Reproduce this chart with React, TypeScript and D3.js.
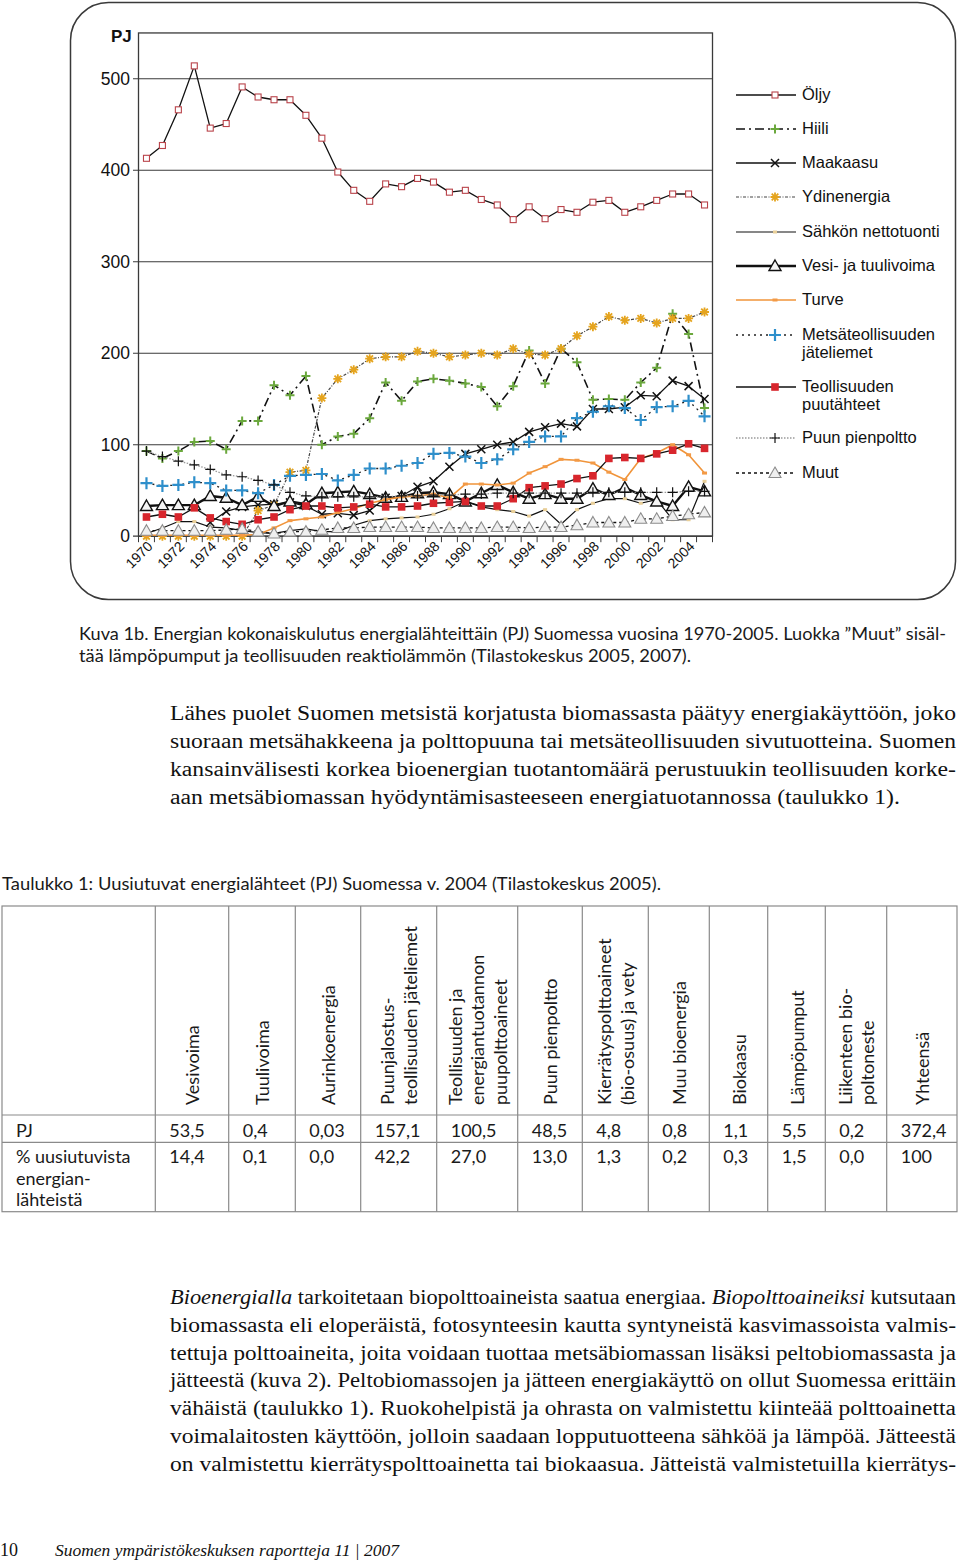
import React from "react";
import * as d3 from "d3";

// ---------- DATA ----------
const years = [
  1970, 1971, 1972, 1973, 1974, 1975, 1976, 1977, 1978, 1979, 1980, 1981,
  1982, 1983, 1984, 1985, 1986, 1987, 1988, 1989, 1990, 1991, 1992, 1993,
  1994, 1995, 1996, 1997, 1998, 1999, 2000, 2001, 2002, 2003, 2004, 2005,
];
const yTicks = [0, 100, 200, 300, 400, 500];
const xTickLabels = [
  1970, 1972, 1974, 1976, 1978, 1980, 1982, 1984, 1986, 1988, 1990, 1992,
  1994, 1996, 1998, 2000, 2002, 2004,
];

const oljy = [413, 427, 466, 514, 446, 451, 491, 480, 477, 477, 460, 435, 398, 378, 366, 385, 382, 391, 387, 376, 378, 368, 362, 346, 360, 347, 357, 354, 365, 367, 354, 360, 367, 374, 374, 362];
const hiili = [93, 85, 93, 103, 104, 95, 126, 126, 165, 154, 175, 100, 109, 112, 129, 168, 148, 169, 172, 170, 167, 163, 142, 164, 203, 167, 205, 190, 149, 150, 149, 168, 184, 243, 221, 140];
const maakaasu: (number | null)[] = [null, null, null, null, 15, 27, 32, 34, 35, 37, 33, 24, 25, 23, 28, 42, 44, 54, 60, 76, 90, 95, 100, 103, 114, 119, 123, 120, 139, 139, 141, 154, 153, 170, 164, 150];
const ydinenergia = [0, 0, 0, 0, 0, 0, 0, 28, 34, 70, 72, 151, 172, 182, 194, 196, 196, 202, 200, 196, 198, 200, 198, 205, 199, 198, 205, 219, 229, 240, 236, 238, 233, 238, 238, 245];
const sahko = [3, 9, 16, 16, 10, 9, 6, 4, 3, 6, 8, 5, 5, 12, 17, 19, 20, 21, 24, 30, 38, 32, 29, 27, 22, 29, 13, 29, 36, 41, 41, 36, 40, 18, 18, 60];
const vesi = [33, 34, 34, 34, 44, 42, 34, 43, 33, 38, 35, 47, 48, 49, 46, 42, 43, 47, 48, 46, 38, 47, 56, 48, 41, 46, 41, 41, 52, 45, 53, 45, 38, 33, 54, 49];
const turve = [1, 1, 1, 1, 1, 1, 1, 2, 9, 17, 19, 21, 26, 30, 36, 40, 43, 44, 46, 42, 57, 57, 56, 58, 69, 76, 84, 83, 80, 70, 62, 85, 91, 100, 89, 69];
const jateliemet = [58, 55, 56, 59, 58, 50, 50, 47, 56, 66, 67, 68, 61, 67, 74, 74, 77, 80, 90, 91, 87, 80, 84, 95, 103, 109, 109, 129, 136, 142, 140, 127, 141, 142, 148, 131];
const puutahteet = [21, 24, 21, 31, 20, 16, 13, 18, 21, 29, 33, 33, 31, 32, 35, 32, 32, 33, 36, 37, 38, 33, 33, 41, 53, 55, 57, 63, 66, 85, 86, 85, 90, 94, 101, 96];
const pienpoltto = [93, 87, 82, 78, 73, 67, 65, 61, 56, 48, 44, 43, 43, 43, 43, 43, 44, 44, 45, 45, 46, 46, 47, 47, 47, 47, 47, 47, 48, 48, 48, 48, 48, 48, 49, 49];
const muut = [6, 6, 6, 6, 6, 7, 8, 5, 3, 5, 5, 7, 9, 9, 10, 10, 10, 10, 9, 9, 9, 9, 10, 10, 9, 10, 10, 12, 15, 15, 15, 19, 19, 22, 24, 26];

const legendLabels: string[][] = [
  ["Öljy"], ["Hiili"], ["Maakaasu"], ["Ydinenergia"], ["Sähkön nettotuonti"],
  ["Vesi- ja tuulivoima"], ["Turve"], ["Metsäteollisuuden", "jäteliemet"],
  ["Teollisuuden", "puutähteet"], ["Puun pienpoltto"], ["Muut"],
];

// table
const tableHeaders: string[][] = [
  ["Vesivoima"], ["Tuulivoima"], ["Aurinkoenergia"],
  ["Puunjalostus-", "teollisuuden jäteliemet"],
  ["Teollisuuden ja", "energiantuotannon", "puupolttoaineet"],
  ["Puun pienpoltto"], ["Kierrätyspolttoaineet", "(bio-osuus) ja vety"],
  ["Muu bioenergia"], ["Biokaasu"], ["Lämpöpumput"], ["Liikenteen bio-", "poltoneste"], ["Yhteensä"],
];
const tablePJ = ["53,5", "0,4", "0,03", "157,1", "100,5", "48,5", "4,8", "0,8", "1,1", "5,5", "0,2", "372,4"];
const tablePct = ["14,4", "0,1", "0,0", "42,2", "27,0", "13,0", "1,3", "0,2", "0,3", "1,5", "0,0", "100"];
const rowLabelPJ = "PJ";
const rowLabelPct = ["% uusiutuvista", "energian-", "lähteistä"];

// text
const captionLines = [
  "Kuva 1b. Energian kokonaiskulutus energialähteittäin (PJ) Suomessa vuosina 1970-2005. Luokka \u201dMuut\u201d sisäl-",
  "tää lämpöpumput ja teollisuuden reaktiolämmön (Tilastokeskus 2005, 2007).",
];
const para1 = [
  "Lähes puolet Suomen metsistä korjatusta biomassasta päätyy energiakäyttöön, joko",
  "suoraan metsähakkeena ja polttopuuna tai metsäteollisuuden sivutuotteina. Suomen",
  "kansainvälisesti korkea bioenergian tuotantomäärä perustuukin teollisuuden korke-",
  "aan metsäbiomassan hyödyntämisasteeseen energiatuotannossa (taulukko 1).",
];
const para1Widths = [786, 786, 786, 730];
const tableTitle = "Taulukko 1: Uusiutuvat energialähteet (PJ) Suomessa v. 2004 (Tilastokeskus 2005).";
const para2 = [
  "biomassasta eli eloperäistä, fotosynteesin kautta syntyneistä kasvimassoista valmis-",
  "tettuja polttoaineita, joita voidaan tuottaa metsäbiomassan lisäksi peltobiomassasta ja",
  "jätteestä (kuva 2). Peltobiomassojen ja jätteen energiakäyttö on ollut Suomessa erittäin",
  "vähäistä (taulukko 1). Ruokohelpistä ja ohrasta on valmistettu kiinteää polttoainetta",
  "voimalaitosten käyttöön, jolloin saadaan lopputuotteena sähköä ja lämpöä. Jätteestä",
  "on valmistettu kierrätyspolttoainetta tai biokaasua. Jätteistä valmistetuilla kierrätys-",
];
const footerPage = "10";
const footerText = "Suomen ympäristökeskuksen raportteja 11 | 2007";

// ---------- STYLES ----------
type Marker = "openSq" | "greenPlus" | "cross" | "star" | "dot" | "tri" | "orangeDot" | "bluePlus" | "redSq" | "blackPlus" | "greyTri";
interface Series { data: (number | null)[]; stroke: string; width: number; dash?: string; marker: Marker; }
const series: Series[] = [
  { data: oljy, stroke: "#111", width: 1.3, marker: "openSq" },
  { data: hiili, stroke: "#111", width: 1.6, dash: "9,4,2,4", marker: "greenPlus" },
  { data: maakaasu, stroke: "#111", width: 1.3, marker: "cross" },
  { data: ydinenergia, stroke: "#444", width: 1.2, dash: "3,1.5,1,1.5", marker: "star" },
  { data: sahko, stroke: "#111", width: 1.2, marker: "dot" },
  { data: vesi, stroke: "#111", width: 2.4, marker: "tri" },
  { data: turve, stroke: "#f0943a", width: 1.6, marker: "orangeDot" },
  { data: jateliemet, stroke: "#222", width: 1.3, dash: "2,4", marker: "bluePlus" },
  { data: puutahteet, stroke: "#111", width: 1.3, marker: "redSq" },
  { data: pienpoltto, stroke: "#9a9a9a", width: 1.3, dash: "1.5,1.5", marker: "blackPlus" },
  { data: muut, stroke: "#111", width: 1.3, dash: "3,3", marker: "greyTri" },
];

function MarkerShape({ kind, x, y }: { kind: Marker; x: number; y: number }) {
  const t = `translate(${x},${y})`;
  switch (kind) {
    case "openSq":
      return <rect transform={t} x={-3} y={-3} width={6} height={6} fill="#fff" stroke="#b9434a" strokeWidth={1.1} />;
    case "greenPlus":
      return <path transform={t} d="M-4.5,0H4.5M0,-4.5V4.5" stroke="#6ba83d" strokeWidth={2} />;
    case "cross":
      return <path transform={t} d="M-4,-4L4,4M-4,4L4,-4" stroke="#111" strokeWidth={1.5} />;
    case "star":
      return <path transform={t} d="M-4.5,0H4.5M0,-4.5V4.5M-3.3,-3.3L3.3,3.3M-3.3,3.3L3.3,-3.3" stroke="#e5a41e" strokeWidth={1.8} />;
    case "dot":
      return <rect transform={t} x={-2} y={-1.5} width={4} height={3} fill="#e9cf98" />;
    case "tri":
      return <path transform={t} d="M0,-6L6,4.5H-6Z" fill="#f4f4f4" stroke="#111" strokeWidth={1.4} />;
    case "orangeDot":
      return <rect transform={t} x={-2.5} y={-1.5} width={5} height={3} fill="#f39a46" />;
    case "bluePlus":
      return <path transform={t} d="M-6,0H6M0,-6V6" stroke="#2e8fcb" strokeWidth={2.2} />;
    case "redSq":
      return <rect transform={t} x={-3.8} y={-3.8} width={7.6} height={7.6} fill="#d8262d" />;
    case "blackPlus":
      return <path transform={t} d="M-5,0H5M0,-5V5" stroke="#111" strokeWidth={1.2} />;
    case "greyTri":
      return <path transform={t} d="M0,-6L6,4.5H-6Z" fill="#efefef" stroke="#8c8c8c" strokeWidth={1.1} />;
  }
}

// ---------- LAYOUT ----------
const W = 960;
const H = 1563;
const legendRows = [95, 129, 163, 197, 232, 266, 300, 335, 387, 438, 473];
const colEdges = [2, 155.3, 228.7, 295.3, 360.7, 436.7, 517.7, 582.3, 648.3, 709.3, 767.7, 825.3, 886.7, 957];

export default function App() {
  const x = d3.scaleBand<number>().domain(years).range([138.5, 712.5]);
  const cx = (yr: number) => (x(yr) as number) + x.bandwidth() / 2;
  const y = d3.scaleLinear().domain([0, 550]).range([536.2, 32.95]);
  const line = d3
    .line<number | null>()
    .defined((d) => d !== null)
    .x((_, i) => cx(years[i]))
    .y((d) => y(d as number));

  const chartFont = "'Liberation Sans', Arial, sans-serif";
  const gill = "Lato, 'Open Sans', sans-serif";
  const serif = "'Liberation Serif', 'DejaVu Serif', serif";

  return (
    <>
      <style>{`body{margin:0;}`}</style>
      <svg width={W} height={H} viewBox={`0 0 ${W} ${H}`} style={{ display: "block", background: "#fff" }}>
        {/* frame */}
        <rect x={70.5} y={2.5} width={885} height={597} rx={38} fill="#fff" stroke="#3a3a3a" strokeWidth={1.5} />

        {/* plot area */}
        <rect x={138.5} y={y(550)} width={574} height={y(0) - y(550)} fill="#fff" stroke="#3a3a3a" strokeWidth={1.3} />
        {yTicks.map((t) => (
          <g key={t}>
            <line x1={133} x2={712.5} y1={y(t)} y2={y(t)} stroke="#3a3a3a" strokeWidth={t === 0 ? 1.3 : 1.1} />
            <text x={130} y={y(t) + 6} textAnchor="end" fontFamily={chartFont} fontSize={17.5} fill="#111">
              {t}
            </text>
          </g>
        ))}
        <text x={111} y={42} fontFamily={chartFont} fontSize={17} fontWeight="bold" fill="#111">PJ</text>
        {/* x ticks */}
        {years.map((yr) => (
          <line key={yr} x1={x(yr) as number} x2={x(yr) as number} y1={y(0)} y2={y(0) + 6} stroke="#3a3a3a" strokeWidth={1} />
        ))}
        <line x1={712.5} x2={712.5} y1={y(0)} y2={y(0) + 6} stroke="#3a3a3a" strokeWidth={1} />
        {xTickLabels.map((yr) => (
          <text
            key={yr}
            transform={`translate(${cx(yr) + 7},${y(0) + 11}) rotate(-45)`}
            textAnchor="end"
            fontFamily={chartFont}
            fontSize={14}
            fill="#111"
          >
            {yr}
          </text>
        ))}

        {/* series */}
        {series.map((s, si) => (
          <g key={si}>
            <path d={line(s.data) || ""} fill="none" stroke={s.stroke} strokeWidth={s.width} strokeDasharray={s.dash} strokeLinejoin="round" />
            {s.data.map((v, i) =>
              v === null ? null : <MarkerShape key={i} kind={s.marker} x={cx(years[i])} y={y(v)} />
            )}
          </g>
        ))}

        {/* legend */}
        {series.map((s, i) => (
          <g key={i}>
            <line x1={736} x2={796} y1={legendRows[i]} y2={legendRows[i]} stroke={s.stroke} strokeWidth={s.width} strokeDasharray={s.dash} />
            <MarkerShape kind={s.marker} x={775} y={legendRows[i]} />
            {legendLabels[i].map((l, j) => (
              <text key={j} x={802} y={legendRows[i] + 5 + j * 17.5} fontFamily={chartFont} fontSize={16.5} fill="#111">
                {l}
              </text>
            ))}
          </g>
        ))}

        {/* caption */}
        <text x={79} y={640} fontFamily={gill} fontSize={17} fill="#1a1a1a" textLength={867} lengthAdjust="spacingAndGlyphs">
          {captionLines[0]}
        </text>
        <text x={79} y={662} fontFamily={gill} fontSize={17} fill="#1a1a1a" textLength={612} lengthAdjust="spacingAndGlyphs">
          {captionLines[1]}
        </text>

        {/* paragraph 1 */}
        {para1.map((l, i) => (
          <text
            key={i}
            x={170}
            y={720 + i * 28}
            fontFamily={serif}
            fontSize={20.5}
            fill="#111"
            textLength={para1Widths[i]}
            lengthAdjust="spacingAndGlyphs"
          >
            {l}
          </text>
        ))}

        {/* table title */}
        <text x={2} y={890} fontFamily={gill} fontSize={17} fill="#1a1a1a" textLength={659} lengthAdjust="spacingAndGlyphs">
          {tableTitle}
        </text>

        {/* table */}
        <g stroke="#8a8a8a" strokeWidth={1.2}>
          <rect x={2} y={906} width={955} height={305.7} fill="none" />
          {colEdges.slice(1, -1).map((cxe, i) => (
            <line key={i} x1={cxe} x2={cxe} y1={906} y2={1211.7} />
          ))}
          <line x1={2} x2={957} y1={1115} y2={1115} />
          <line x1={2} x2={957} y1={1142.3} y2={1142.3} />
        </g>
        {tableHeaders.map((lines, ci) => {
          const c = (colEdges[ci + 1] + colEdges[ci + 2]) / 2;
          const n = lines.length;
          return lines.map((l, li) => {
            const lx = c + (li - (n - 1) / 2) * 22.5;
            return (
              <text
                key={`${ci}-${li}`}
                transform={`translate(${lx},1105) rotate(-90)`}
                dominantBaseline="central"
                fontFamily={gill}
                fontSize={18}
                fill="#1a1a1a"
              >
                {l}
              </text>
            );
          });
        })}
        <text x={16} y={1137} fontFamily={gill} fontSize={18} fill="#1a1a1a">{rowLabelPJ}</text>
        {rowLabelPct.map((l, i) => (
          <text key={i} x={16} y={1163 + i * 21.5} fontFamily={gill} fontSize={18} fill="#1a1a1a">{l}</text>
        ))}
        {tablePJ.map((v, i) => (
          <text key={i} x={colEdges[i + 1] + 14} y={1137} fontFamily={gill} fontSize={18} fill="#1a1a1a">{v}</text>
        ))}
        {tablePct.map((v, i) => (
          <text key={i} x={colEdges[i + 1] + 14} y={1163} fontFamily={gill} fontSize={18} fill="#1a1a1a">{v}</text>
        ))}

        {/* paragraph 2 */}
        <text x={170} y={1304} fontFamily={serif} fontSize={20.5} fill="#111" textLength={786} lengthAdjust="spacingAndGlyphs">
          <tspan fontStyle="italic">Bioenergialla</tspan>
          <tspan> tarkoitetaan biopolttoaineista saatua energiaa. </tspan>
          <tspan fontStyle="italic">Biopolttoaineiksi</tspan>
          <tspan> kutsutaan</tspan>
        </text>
        {para2.map((l, i) => (
          <text key={i} x={170} y={1304 + (i + 1) * 27.8} fontFamily={serif} fontSize={20.5} fill="#111" textLength={786} lengthAdjust="spacingAndGlyphs">
            {l}
          </text>
        ))}

        {/* footer */}
        <text x={0} y={1556} fontFamily={serif} fontSize={18} fill="#111">{footerPage}</text>
        <text x={55} y={1556} fontFamily={serif} fontSize={17} fontStyle="italic" fill="#111" textLength={344} lengthAdjust="spacingAndGlyphs">{footerText}</text>
      </svg>
    </>
  );
}
